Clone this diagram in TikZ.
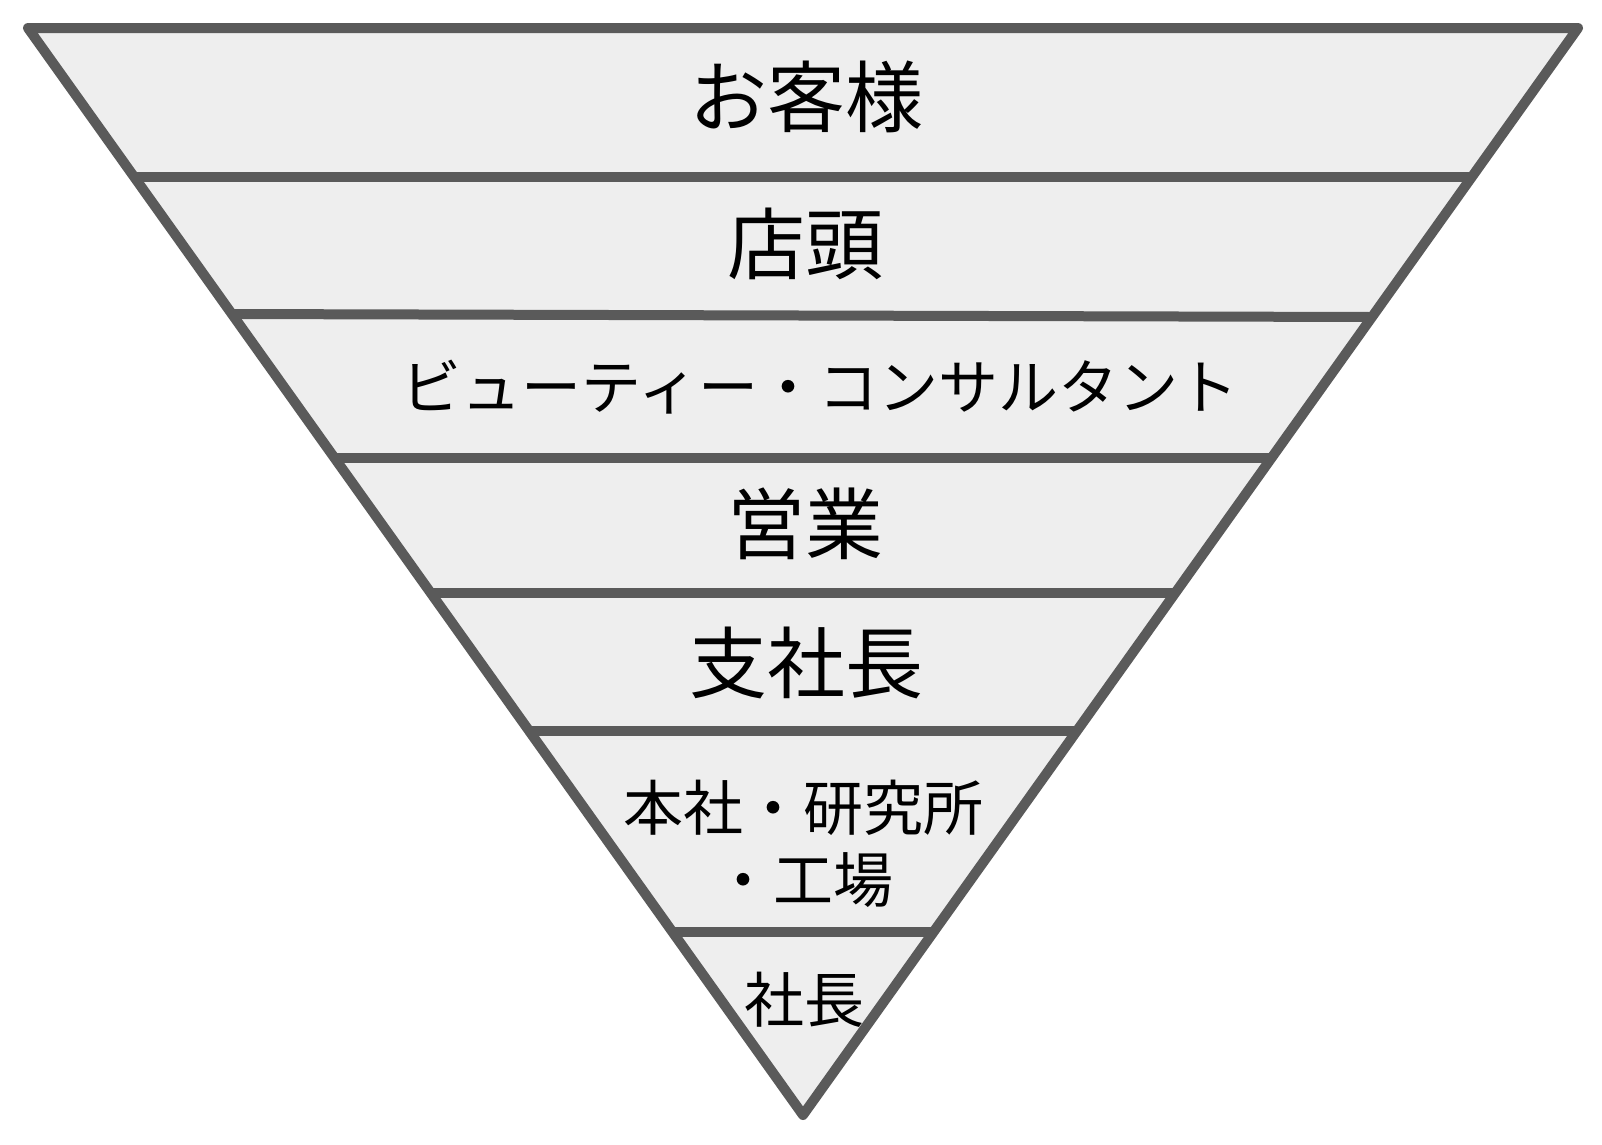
\documentclass[tikz,border=0pt]{standalone}
\usepackage{fontspec}
\newfontfamily\jpfont{Noto Sans CJK JP}
\definecolor{edgegray}{HTML}{5A5A5A}
\definecolor{bandgray}{HTML}{EEEEEE}
\begin{document}
\begin{tikzpicture}[x=1pt,y=-1pt,line join=round,
  outline/.style={draw=edgegray,line width=10pt},
  sepline/.style={draw=edgegray,line width=10pt},
  bigtext/.style={font=\jpfont\fontsize{78}{78}\selectfont,inner sep=0pt},
  smalltext/.style={font=\jpfont\fontsize{60}{72}\selectfont,inner sep=0pt,align=center}]
\useasboundingbox (0,0) rectangle (1602,1144);
\coordinate (TL) at (28,28);
\coordinate (TR) at (1578,28);
\coordinate (TIP) at (803,1115);
\coordinate (L1) at (134,177);   \coordinate (R1) at (1472,177);
\coordinate (L2) at (232,314);   \coordinate (R2) at (1372,317);
\coordinate (L3) at (334.5,457.5); \coordinate (R3) at (1271.5,457.5);
\coordinate (L4) at (431,592.5); \coordinate (R4) at (1175,592.5);
\coordinate (L5) at (529,730.5); \coordinate (R5) at (1077,730.5);
\coordinate (L6) at (673,932);   \coordinate (R6) at (933,932);
\fill[bandgray] (TL) -- (TR) -- (TIP) -- cycle;
\draw[sepline] (L1) -- (R1);
\draw[sepline] (L2) -- (R2);
\draw[sepline] (L3) -- (R3);
\draw[sepline] (L4) -- (R4);
\draw[sepline] (L5) -- (R5);
\draw[sepline] (L6) -- (R6);
\draw[outline] (TL) -- (TR) -- (TIP) -- cycle;
\node[bigtext] (t1) at (806,97) {お客様};
\node[bigtext] (t2) at (805,244) {店頭};
\node[smalltext] (t3) at (820,387) {ビューティー・コンサルタント};
\node[bigtext] (t4) at (805,524) {営業};
\node[bigtext] (t5) at (806,663) {支社長};
\node[smalltext] (t6) at (803,844) {本社・研究所\\・工場};
\node[smalltext] (t7) at (804,1000) {社長};
\end{tikzpicture}
\end{document}
